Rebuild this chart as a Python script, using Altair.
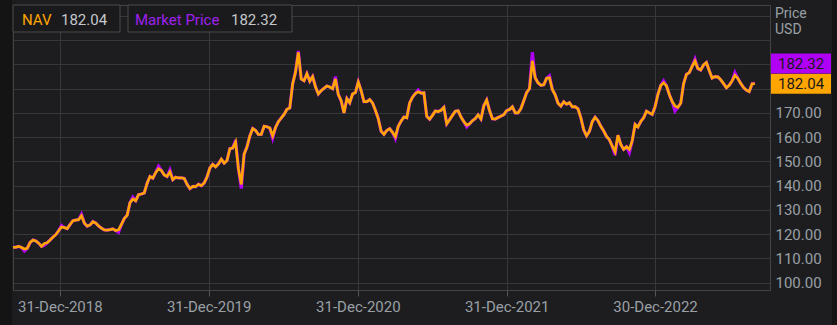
import altair as alt
import pandas as pd

# ---------------- data ----------------
start_date = "2018-09-07"          # weekly observations
nav = [
    114.6, 114.7, 115.0, 114.5, 113.9, 114.2, 116.6, 117.6, 117.2, 116.3,
    115.0, 116.2, 116.5, 117.6, 118.8, 119.8, 121.4, 123.0, 122.7, 122.3,
    124.0, 125.6, 125.8, 126.0, 127.6, 124.6, 123.3, 123.8, 125.2, 124.6,
    123.4, 122.5, 121.8, 121.7, 121.9, 122.2, 121.5, 121.8, 124.0, 126.5,
    127.8, 133.0, 134.5, 133.8, 136.3, 136.6, 137.0, 141.0, 143.8, 143.1,
    145.4, 147.0, 146.3, 144.4, 143.8, 145.7, 142.5, 143.5, 143.2, 143.2,
    143.0, 140.6, 138.8, 139.7, 139.6, 140.6, 140.0, 141.1, 143.6, 147.3,
    148.8, 147.8, 149.0, 150.9, 149.3, 150.4, 155.3, 155.5, 158.0, 147.0,
    140.5, 153.0, 156.0, 160.5, 163.6, 162.8, 161.1, 161.1, 164.5, 164.3,
    163.8, 160.5, 164.0, 166.4, 167.9, 169.4, 171.5, 172.1, 182.0, 186.8,
    195.0, 184.0, 183.3, 186.2, 183.1, 185.0, 180.8, 177.8, 179.2, 180.2,
    181.1, 180.7, 180.0, 184.0, 177.6, 175.0, 170.0, 175.9, 174.2, 177.8,
    178.4, 182.8, 179.2, 174.7, 174.7, 175.5, 174.1, 171.1, 167.7, 162.5,
    161.2, 162.8, 163.5, 162.0, 160.2, 164.5, 166.6, 168.3, 168.0, 174.1,
    176.5, 178.0, 178.7, 178.2, 178.3, 168.6, 167.4, 169.0, 170.8, 170.6,
    171.1, 172.3, 165.5, 167.2, 169.0, 170.7, 170.9, 168.3, 166.4, 165.0,
    165.5, 166.8, 167.7, 169.2, 167.5, 173.0, 175.3, 171.0, 167.6, 167.5,
    168.1, 168.7, 169.3, 171.0, 171.4, 172.5, 170.0, 170.0, 171.8, 175.0,
    178.4, 180.0, 191.5, 184.5, 182.4, 181.4, 181.6, 184.3, 184.5, 179.7,
    177.5, 174.0, 172.8, 174.6, 173.6, 174.2, 172.5, 172.6, 171.7, 168.0,
    163.0, 160.6, 162.4, 166.4, 168.2, 166.8, 164.5, 162.6, 160.3, 159.0,
    156.3, 153.9, 160.8, 157.0, 155.0, 156.0, 155.0, 158.5, 165.3, 164.2,
    166.5, 168.0, 170.7, 170.0, 169.4, 172.5, 177.6, 181.3, 182.4, 181.2,
    177.6, 174.7, 172.9, 172.3, 174.0, 182.0, 185.9, 186.6, 189.2, 191.4,
    188.3, 187.7, 189.8, 190.8, 187.4, 184.4, 185.0, 184.9, 183.7, 182.1,
    180.4, 181.4, 183.2, 185.5, 184.3, 182.2, 180.5, 179.4, 178.8, 182.0,
    182.04,
]
# market price where it visibly differs from NAV (week index -> price)
market_diffs = {
    4: 113.0, 11: 115.4, 17: 123.6, 24: 128.2, 37: 120.8, 42: 135.3,
    51: 148.0, 55: 146.5, 78: 158.8, 80: 138.8, 91: 159.6, 100: 195.6,
    113: 185.0, 134: 159.4, 142: 179.5, 159: 164.3, 182: 195.0, 188: 185.3,
    211: 152.6, 216: 153.6, 228: 183.2, 232: 170.8, 239: 192.2, 253: 186.6,
    260: 182.32,
}
market = [market_diffs.get(i, v) for i, v in enumerate(nav)]

tick_dates = [(2018, 12, 31), (2019, 12, 31), (2020, 12, 31), (2021, 12, 31), (2022, 12, 30)]
x_domain = [(2018, 9, 7), (2023, 10, 8)]
y_ticks = [100, 110, 120, 130, 140, 150, 160, 170, 180, 190, 200, 210]
y_domain = [97, 214.5]

series_names = ["NAV", "Market Price"]
last_values = [nav[-1], market[-1]]

# ---------------- styling ----------------
ORANGE = "#ffa500"
PURPLE = "#b000f5"
FONT = "Roboto"
LABEL = "#9aa0a6"

dates = pd.date_range(start_date, periods=len(nav), freq="7D")
df = pd.DataFrame({"date": dates.strftime("%Y-%m-%d"), "NAV": nav, "Market": market})

def dt(t):
    return alt.DateTime(year=t[0], month=t[1], date=t[2], utc=True)

x_scale = alt.Scale(type="utc", domain=[dt(t) for t in x_domain])
x_axis = alt.Axis(values=[dt(t) for t in tick_dates],
                  labelExpr="utcFormat(datum.value, '%d-%b-%Y')",
                  grid=True, ticks=True, tickSize=6, tickColor="#555555",
                  domain=False, labelPadding=3, title=None)
y_scale = alt.Scale(domain=y_domain, nice=False, zero=False)
y_axis = alt.Axis(orient="right", values=y_ticks,
                  labelExpr="datum.value < 175 ? format(datum.value, '.2f') : ''",
                  ticks=False, domain=False, grid=True, labelPadding=5, title=None)

def X():
    return alt.X("date:T", scale=x_scale, axis=x_axis, title=None)

def Y(field):
    return alt.Y(field, scale=y_scale, axis=y_axis, title=None)

base = alt.Chart(df)
market_line = base.mark_line(color=PURPLE, strokeWidth=3.2).encode(x=X(), y=Y("Market:Q"))
nav_line = base.mark_line(color=ORANGE, strokeWidth=2.7).encode(x=X(), y=Y("NAV:Q"))

one = pd.DataFrame({"a": [0]})

# outer dark strips
strips = alt.layer(
    alt.Chart(one).mark_rect(color="#141414").encode(
        x=alt.value(-13), x2=alt.value(-1), y=alt.value(-5), y2=alt.value(320)),
    alt.Chart(one).mark_rect(color="#141414").encode(
        x=alt.value(819), x2=alt.value(824), y=alt.value(-5), y2=alt.value(320)),
)

# legend boxes
leg_box1 = alt.Chart(one).mark_rect(fill="#1a1a1c", stroke="#4a4a4a", strokeWidth=1).encode(
    x=alt.value(0), x2=alt.value(107), y=alt.value(0), y2=alt.value(27))
leg_box2 = alt.Chart(one).mark_rect(fill="#1a1a1c", stroke="#4a4a4a", strokeWidth=1).encode(
    x=alt.value(115), x2=alt.value(279), y=alt.value(0), y2=alt.value(27))

def txt(s, x, y, color, align="left", size=15):
    return alt.Chart(one).mark_text(align=align, baseline="middle", font=FONT,
                                    fontSize=size, color=color).encode(
        x=alt.value(x), y=alt.value(y), text=alt.value(s))

leg_texts = alt.layer(
    txt(series_names[0], 9, 14.5, ORANGE),
    txt(f"{last_values[0]:.2f}", 48, 14.5, "#c4c8cc"),
    txt(series_names[1], 122, 14.5, "#a020f0"),
    txt(f"{last_values[1]:.2f}", 218, 14.5, "#c4c8cc"),
    txt("Price", 762, 9, LABEL, size=14),
    txt("USD", 762, 25, LABEL, size=14),
)

# price tags at the last values
tag_df = pd.DataFrame({"value": last_values, "label": [f"{v:.2f}" for v in last_values],
                       "series": series_names})
tag_shape = "M-1,-0.3333H1V0.3333H-1Z"
tag_nav_df = tag_df[tag_df.series == "NAV"]
tag_mkt_df = tag_df[tag_df.series == "Market Price"]
tag_nav = alt.Chart(tag_nav_df).mark_point(shape=tag_shape, filled=True, size=3600, opacity=1,
                                           color=ORANGE, strokeWidth=0).encode(
    x=alt.value(788), y=Y("value:Q"))
tag_mkt = alt.Chart(tag_mkt_df).mark_point(shape=tag_shape, filled=True, size=3600, opacity=1,
                                           color=PURPLE, strokeWidth=0, yOffset=-19.5).encode(
    x=alt.value(788), y=Y("value:Q"))
tag_nav_t = alt.Chart(tag_nav_df).mark_text(align="center", baseline="middle", font=FONT,
                                            fontSize=15, color="#1b1b1b").encode(
    x=alt.value(788), y=Y("value:Q"), text="label:N")
tag_mkt_t = alt.Chart(tag_mkt_df).mark_text(align="center", baseline="middle", font=FONT,
                                            fontSize=15, color="#1b1b1b", yOffset=-19.5).encode(
    x=alt.value(788), y=Y("value:Q"), text="label:N")

chart = alt.layer(
    strips, market_line, nav_line, leg_box1, leg_box2, leg_texts,
    tag_nav, tag_mkt, tag_nav_t, tag_mkt_t,
).properties(
    width=757, height=285,
    padding={"left": 13, "top": 5, "right": 67, "bottom": 35},
    autosize=alt.AutoSizeParams(type="none"),
    background="#1d1d1f",
).configure_view(
    stroke="#444444", strokeWidth=1, fill="#1d1d1f"
).configure_axis(
    gridColor="#383838", gridWidth=1, labelColor=LABEL, labelFont=FONT, labelFontSize=15,
)

chart.save("out.html", embed_options={"renderer": "svg", "actions": False})
